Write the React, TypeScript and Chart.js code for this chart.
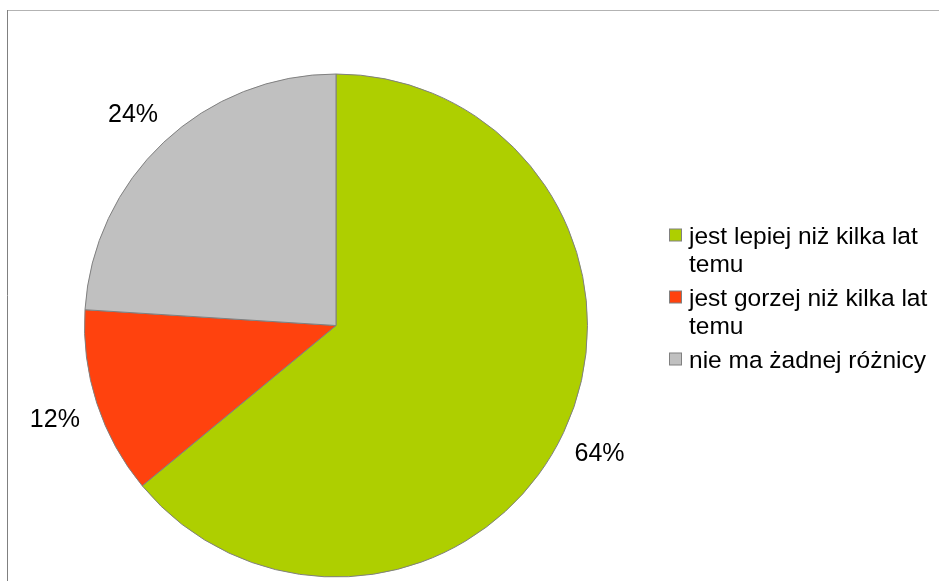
import React, { useEffect, useRef } from "react";
import { Chart, registerables } from "chart.js";

Chart.register(...registerables);

const categories = [
  "jest lepiej niż kilka lat temu",
  "jest gorzej niż kilka lat temu",
  "nie ma żadnej różnicy",
];
const values = [64, 12, 24];
const colors = ["#aecf00", "#ff420e", "#c0c0c0"];

const FONT = "'Liberation Sans', Arial, sans-serif";

const framePlugin = {
  id: "frame",
  beforeDraw(chart: any) {
    const ctx = chart.ctx;
    ctx.save();
    ctx.fillStyle = "#ffffff";
    ctx.fillRect(0, 0, chart.width, chart.height);
    ctx.lineWidth = 1;
    ctx.strokeStyle = "#b3b3b3";
    ctx.beginPath();
    ctx.moveTo(7, 10.5);
    ctx.lineTo(chart.width, 10.5);
    ctx.stroke();
    ctx.strokeStyle = "#808080";
    ctx.beginPath();
    ctx.moveTo(7.5, 10);
    ctx.lineTo(7.5, chart.height);
    ctx.stroke();
    ctx.restore();
  },
};

const labelPlugin = {
  id: "pctLabels",
  afterDraw(chart: any) {
    const ctx = chart.ctx;
    const meta = chart.getDatasetMeta(0);
    const data = chart.data.datasets[0].data as number[];
    const total = data.reduce((a, b) => a + b, 0);
    ctx.save();
    ctx.font = `25px ${FONT}`;
    ctx.fillStyle = "#000000";
    ctx.textAlign = "center";
    ctx.textBaseline = "middle";
    meta.data.forEach((arc: any, i: number) => {
      const { x, y, startAngle, endAngle, outerRadius } = arc.getProps(
        ["x", "y", "startAngle", "endAngle", "outerRadius"],
        true
      );
      const mid = (startAngle + endAngle) / 2;
      const r = outerRadius + 42;
      const pct = Math.round((data[i] / total) * 100);
      ctx.fillText(`${pct}%`, x + Math.cos(mid) * r - 2, y + Math.sin(mid) * r + 4);
    });
    ctx.restore();
  },
};

const legendPlugin = {
  id: "wrapLegend",
  afterDraw(chart: any) {
    const ctx = chart.ctx;
    const labels = chart.data.labels as string[];
    const bg = chart.data.datasets[0].backgroundColor as string[];
    const textX = 689;
    const boxX = 669.5;
    const maxW = 246;
    const lineH = 28.5;
    const itemGap = 5;
    let yLine = 237;
    ctx.save();
    ctx.font = `24.5px ${FONT}`;
    ctx.textBaseline = "middle";
    ctx.textAlign = "left";
    labels.forEach((lab, i) => {
      const words = lab.split(" ");
      const lines: string[] = [];
      let cur = "";
      words.forEach((w) => {
        const test = cur ? cur + " " + w : w;
        if (ctx.measureText(test).width > maxW && cur) {
          lines.push(cur);
          cur = w;
        } else cur = test;
      });
      if (cur) lines.push(cur);
      ctx.fillStyle = bg[i];
      ctx.fillRect(boxX, yLine - 8, 12, 12);
      ctx.strokeStyle = "#808080";
      ctx.lineWidth = 1;
      ctx.strokeRect(boxX, yLine - 8, 12, 12);
      ctx.fillStyle = "#000000";
      lines.forEach((ln, k) => {
        ctx.fillText(ln, textX, yLine + k * lineH);
      });
      yLine += lines.length * lineH + itemGap;
    });
    ctx.restore();
  },
};

export default function App() {
  const ref = useRef<HTMLCanvasElement | null>(null);
  useEffect(() => {
    if (!ref.current) return;
    const chart = new Chart(ref.current, {
      type: "pie",
      data: {
        labels: categories,
        datasets: [
          {
            data: values,
            backgroundColor: colors,
            borderColor: "#808080",
            borderWidth: 1,
          },
        ],
      },
      options: {
        responsive: false,
        animation: false,
        layout: { padding: { left: 84, right: 351, top: 73, bottom: 3 } },
        plugins: {
          legend: { display: false },
          tooltip: { enabled: false },
        },
      },
      plugins: [framePlugin, labelPlugin, legendPlugin],
    });
    return () => chart.destroy();
  }, []);
  return (
    <div style={{ position: "fixed", left: 0, top: 0, width: 939, height: 581, background: "#fff" }}>
      <canvas ref={ref} width={939} height={581} style={{ display: "block" }} />
    </div>
  );
}
